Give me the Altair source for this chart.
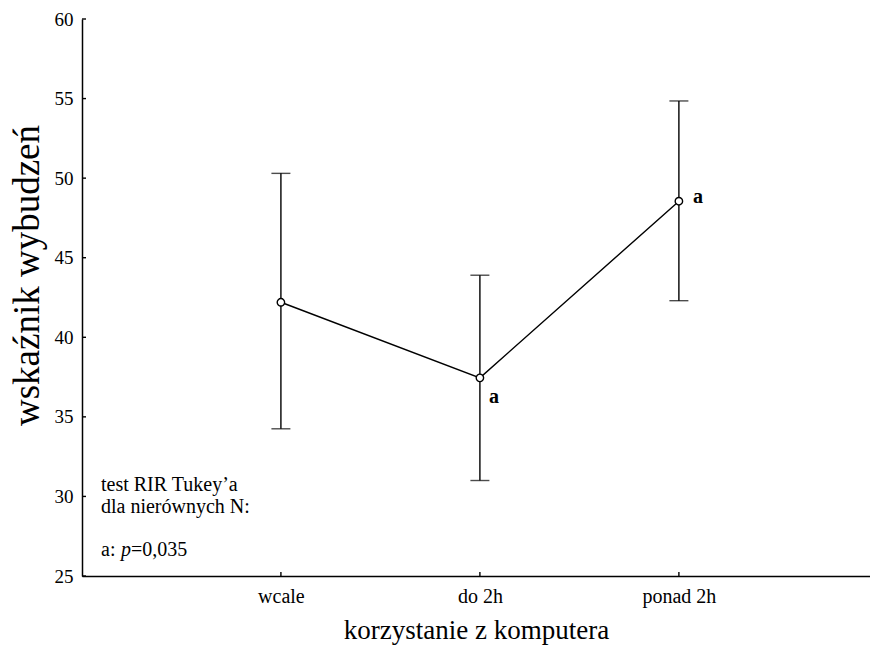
import altair as alt
import pandas as pd

# Group means with lower/upper interval bounds
groups = ["wcale", "do 2h", "ponad 2h"]
means = [42.2, 37.45, 48.55]
lower = [34.25, 31.0, 42.3]
upper = [50.3, 43.9, 54.85]
letters = ["", "a", "a"]

y_ticks = [25, 30, 35, 40, 45, 50, 55, 60]

df = pd.DataFrame({"grupa": groups, "srednia": means, "dol": lower, "gora": upper, "lit": letters})
ticks_df = pd.DataFrame({"v": y_ticks})

FONT = "Liberation Serif"
W, H = 788, 557

x_enc = alt.X(
    "grupa:N",
    sort=groups,
    scale=alt.Scale(type="point", padding=0.98, align=0.51),
    axis=alt.Axis(
        title="korzystanie z komputera",
        labelAngle=0,
        labelFont=FONT,
        labelFontSize=20,
        labelColor="black",
        labelPadding=10,
        ticks=False,
        domainColor="black",
        domainWidth=1.5,
        titleFont=FONT,
        titleFontSize=27,
        titleFontWeight="normal",
        titleColor="black",
        titlePadding=11,
    ),
)
y_scale = alt.Scale(domain=[25, 60], nice=False, zero=False)

base = alt.Chart(df)

line = base.mark_line(color="black", strokeWidth=1.4).encode(
    x=x_enc,
    y=alt.Y(
        "srednia:Q",
        scale=y_scale,
        axis=alt.Axis(
            title="wskaźnik wybudzeń",
            values=y_ticks,
            grid=False,
            ticks=False,
            labelFont=FONT,
            labelFontSize=19,
            labelColor="black",
            labelPadding=9,
            domainColor="black",
            domainWidth=1.5,
            titleFont=FONT,
            titleFontSize=37,
            titleFontWeight="normal",
            titleColor="black",
            titleX=-55,
            titleY=256,
            titleAngle=270,
            titleAlign="center",
            titleBaseline="middle",
        ),
    ),
)

whisker = base.mark_rule(color="black", strokeWidth=1.4).encode(
    x=alt.X("grupa:N", sort=groups),
    y=alt.Y("dol:Q", scale=y_scale),
    y2="gora:Q",
)
cap_lo = base.mark_tick(color="black", thickness=1.4, size=19, orient="horizontal").encode(
    x=alt.X("grupa:N", sort=groups), y=alt.Y("dol:Q", scale=y_scale)
)
cap_hi = base.mark_tick(color="black", thickness=1.4, size=19, orient="horizontal").encode(
    x=alt.X("grupa:N", sort=groups), y=alt.Y("gora:Q", scale=y_scale)
)
points = base.mark_point(shape="circle", size=55, filled=False, color="black", strokeWidth=1.4, fill="white", fillOpacity=1).encode(
    x=alt.X("grupa:N", sort=groups), y=alt.Y("srednia:Q", scale=y_scale)
)

# Inward tick marks on both axes
y_tick_marks = alt.Chart(ticks_df).mark_rule(color="black", strokeWidth=1.4).encode(
    y=alt.Y("v:Q", scale=y_scale), x=alt.value(0), x2=alt.value(4)
)
x_tick_marks = base.mark_rule(color="black", strokeWidth=1.4).encode(
    x=alt.X("grupa:N", sort=groups), y=alt.value(H - 4), y2=alt.value(H)
)

lab_mid = base.transform_filter(alt.datum.grupa == "do 2h").mark_text(
    font=FONT, fontSize=20, fontWeight="bold", color="black", dx=14, dy=19
).encode(x=alt.X("grupa:N", sort=groups), y=alt.Y("srednia:Q", scale=y_scale), text="lit:N")
lab_hi = base.transform_filter(alt.datum.grupa == "ponad 2h").mark_text(
    font=FONT, fontSize=20, fontWeight="bold", color="black", dx=19, dy=-4
).encode(x=alt.X("grupa:N", sort=groups), y=alt.Y("srednia:Q", scale=y_scale), text="lit:N")

note_style = dict(font=FONT, fontSize=20, color="black", align="left", baseline="middle")
one = alt.Chart(df).transform_filter(alt.datum.grupa == "wcale")
note1 = one.mark_text(**note_style, text="test RIR Tukey’a").encode(x=alt.value(19), y=alt.value(466))
note2 = one.mark_text(**note_style, text="dla nierównych N:").encode(x=alt.value(19), y=alt.value(488))
note3a = one.mark_text(**note_style, text="a:").encode(x=alt.value(19), y=alt.value(531))
note3b = one.mark_text(**note_style, fontStyle="italic", text="p").encode(x=alt.value(39), y=alt.value(531))
note3c = one.mark_text(**note_style, text="=0,035").encode(x=alt.value(49), y=alt.value(531))

chart = (
    alt.layer(
        line, whisker, cap_lo, cap_hi, points, y_tick_marks, x_tick_marks,
        lab_mid, lab_hi, note1, note2, note3a, note3b, note3c,
    )
    .properties(
        width=W,
        height=H,
        autosize=alt.AutoSizeParams(type="none"),
        padding={"left": 82, "top": 19, "right": 0, "bottom": 78},
        background="white",
    )
    .configure_view(stroke=None)
)

chart.save("out.html", embed_options={"renderer": "svg", "actions": False})
